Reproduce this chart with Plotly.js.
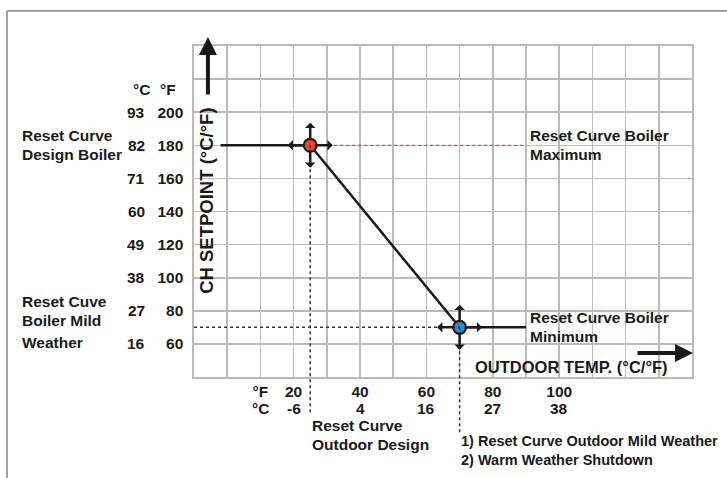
<!DOCTYPE html>
<html>
<head>
<meta charset="utf-8">
<script src="https://cdn.plot.ly/plotly-3.0.1.min.js"></script>
<style>html,body{margin:0;padding:0;background:#fff;}#chart{width:727px;height:478px;}</style>
</head>
<body>
<div id="chart"></div>
<script>
// ---- data ----
const curveX = [-2, 25, 70, 90];          // outdoor temp (°F)
const curveY = [180, 180, 70, 70];        // CH setpoint (°F)
const pointX = [25, 70];                  // design / mild-weather outdoor temp
const pointY = [180, 70];                 // boiler max / min setpoint
const pointColors = ['#e8472b', '#3b86c6'];
const xTickVals = [10, 20, 40, 60, 80, 100];
const xTickF = ['°F', '20', '40', '60', '80', '100'];
const xTickC = ['°C', '-6', '4', '16', '27', '38'];
const yTickF = [60, 80, 100, 120, 140, 160, 180, 200];
const yTickC = ['16', '27', '38', '49', '60', '71', '82', '93'];

const X_RANGE = [-10, 140], Y_RANGE = [40, 240];
const FAM = 'Liberation Sans, Arial, sans-serif';
const FONT = {family: FAM, size: 15.5, color: '#1a1a1a', weight: 700};
const ink = '#1a1a1a';
const PITCH = 19;

// grid ticks
const xGrid = [], xGridText = [];
for (let v = X_RANGE[0]; v <= X_RANGE[1]; v += 10) {
  xGrid.push(v);
  const i = xTickVals.indexOf(v);
  xGridText.push(i >= 0 ? xTickF[i] : '');
}
const yGrid = [], yGridText = [];
for (let v = Y_RANGE[0]; v <= Y_RANGE[1]; v += 20) {
  yGrid.push(v);
  yGridText.push(yTickF.indexOf(v) >= 0 ? String(v) : '');
}

const traces = [
  {x: curveX, y: curveY, mode: 'lines', line: {color: ink, width: 2.5}, hoverinfo: 'skip'},
  {x: pointX, y: pointY, mode: 'markers', cliponaxis: false,
   marker: {size: 13, color: pointColors, line: {color: ink, width: 2}}, hoverinfo: 'skip'}
];

const yPaper = v => (v - Y_RANGE[0]) / (Y_RANGE[1] - Y_RANGE[0]);

const shapes = [
  // outer frame (top & left)
  {type: 'line', xref: 'paper', yref: 'paper', x0: -0.3755, x1: 1.08, y0: 1.1057, y1: 1.1057, line: {color: '#808080', width: 1.5}},
  {type: 'line', xref: 'paper', yref: 'paper', x0: -0.3755, x1: -0.3755, y0: 1.1057, y1: -0.32, line: {color: '#808080', width: 1.5}},
  // red dotted max line
  {type: 'line', xref: 'x', yref: 'y', x0: pointX[0], x1: curveX[3], y0: pointY[0], y1: pointY[0], line: {color: '#e0442a', width: 1.2, dash: 'dot'}},
  // black dotted min line
  {type: 'line', xref: 'x', yref: 'y', x0: X_RANGE[0], x1: pointX[1], y0: pointY[1], y1: pointY[1], line: {color: '#333', width: 1.5, dash: 'dot'}},
  // vertical dotted drops
  {type: 'line', xref: 'x', yref: 'paper', x0: pointX[0], x1: pointX[0], y0: yPaper(pointY[0]), y1: -0.11, line: {color: '#333', width: 1.5, dash: 'dot'}},
  {type: 'line', xref: 'x', yref: 'paper', x0: pointX[1], x1: pointX[1], y0: yPaper(pointY[1]), y1: -0.169, line: {color: '#333', width: 1.5, dash: 'dot'}}
];

const ann = [];
function txt(o) {
  ann.push(Object.assign({showarrow: false, font: FONT, xanchor: 'center', yanchor: 'middle', borderpad: 0}, o));
}
// block of lines, centred vertically on the anchor
function block(lines, o) {
  const n = lines.length;
  lines.forEach((t, i) => txt(Object.assign({}, o, {text: t, yshift: ((n - 1) / 2 - i) * PITCH})));
}
// block of lines hanging from the anchor
function hang(lines, o) {
  lines.forEach((t, i) => txt(Object.assign({}, o, {text: t, yanchor: 'top', yshift: -i * PITCH})));
}

// °C column
yTickF.forEach((v, i) => txt({xref: 'paper', yref: 'y', x: -0.0964, y: v, xanchor: 'right', text: yTickC[i]}));
txt({xref: 'paper', yref: 'paper', x: -0.1054, y: 0.870, text: '°C'});
txt({xref: 'paper', yref: 'paper', x: -0.0532, y: 0.870, text: '°F'});
// °C line under the x ticks
xTickVals.forEach((v, i) => txt({xref: 'x', yref: 'paper', x: v, y: -0.0937, text: xTickC[i]}));
// left labels
block(['Reset Curve', 'Design Boiler'], {xref: 'paper', yref: 'y', x: -0.347, y: 180, xanchor: 'left'});
block(['Reset Cuve', 'Boiler Mild'], {xref: 'paper', yref: 'y', x: -0.347, y: 80, xanchor: 'left'});
txt({xref: 'paper', yref: 'y', x: -0.347, y: 61, xanchor: 'left', text: 'Weather'});
// right labels
block(['Reset Curve Boiler', 'Maximum'], {xref: 'x', yref: 'y', x: 91, y: pointY[0], xanchor: 'left'});
block(['Reset Curve Boiler', 'Minimum'], {xref: 'x', yref: 'y', x: 91, y: pointY[1], xanchor: 'left'});
// bottom labels
hang(['Reset Curve', 'Outdoor Design'], {xref: 'x', yref: 'paper', x: pointX[0], y: -0.117, xanchor: 'left', xshift: 1});
hang(['1) Reset Curve Outdoor Mild Weather', '2) Warm Weather Shutdown'], {xref: 'x', yref: 'paper', x: pointX[1], y: -0.166, xanchor: 'left',
  font: Object.assign({}, FONT, {size: 14.5})});
// axis titles
txt({xref: 'paper', yref: 'paper', x: 0.759, y: 0.030, text: 'OUTDOOR TEMP. (°C/°F)', font: Object.assign({}, FONT, {size: 16.5})});
txt({xref: 'paper', yref: 'paper', x: 0.026, y: 0.532, text: 'CH SETPOINT (°C/°F)', textangle: -90, font: Object.assign({}, FONT, {size: 18.5})});
// big axis arrows
ann.push({xref: 'paper', yref: 'paper', x: 0.028, y: 1.027, ax: 0, ay: 58, text: '', showarrow: true, font: {size: 1}, borderpad: 0,
  arrowhead: 2, arrowsize: 0.9, arrowwidth: 4, arrowcolor: ink});
ann.push({xref: 'paper', yref: 'paper', x: 1.002, y: 0.0725, ax: -56, ay: 0, text: '', showarrow: true, font: {size: 1}, borderpad: 0,
  arrowhead: 2, arrowsize: 0.9, arrowwidth: 4, arrowcolor: ink});
// small arrows round the points
const dirs = [[0, -23], [0, 23], [-23, 0], [23, 0]];
pointX.forEach((px, i) => dirs.forEach(d => ann.push({
  xref: 'x', yref: 'y', x: px, y: pointY[i], ax: d[0], ay: d[1], text: '', showarrow: true, font: {size: 1}, borderpad: 0,
  arrowside: 'start', startarrowhead: 1, startarrowsize: 0.7, arrowwidth: 2.5, arrowcolor: ink, standoff: 5
})));

const axisCommon = {showgrid: true, gridcolor: '#bababa', gridwidth: 1.6, zeroline: false,
  showline: true, mirror: true, linecolor: '#bababa', linewidth: 1.6, ticks: '', fixedrange: true,
  tickfont: FONT};

const layout = {
  width: 727, height: 478,
  margin: {l: 194, r: 35, t: 46, b: 101},
  paper_bgcolor: '#fff', plot_bgcolor: '#fff',
  showlegend: false,
  xaxis: Object.assign({}, axisCommon, {range: X_RANGE, tickmode: 'array', tickvals: xGrid, ticktext: xGridText, ticklabelstandoff: 0}),
  yaxis: Object.assign({}, axisCommon, {range: Y_RANGE, tickmode: 'array', tickvals: yGrid, ticktext: yGridText, ticklabelstandoff: 6}),
  shapes: shapes,
  annotations: ann
};

Plotly.newPlot('chart', traces, layout, {displayModeBar: false, staticPlot: true});
</script>
</body>
</html>
